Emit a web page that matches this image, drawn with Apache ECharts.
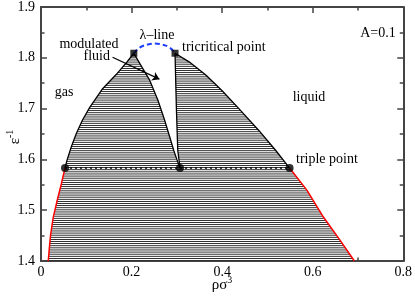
<!DOCTYPE html>
<html><head><meta charset="utf-8">
<script src="https://cdn.jsdelivr.net/npm/echarts@6/dist/echarts.min.js"></script>
<style>html,body{margin:0;padding:0;background:#fff}#c{width:415px;height:298px}</style>
</head><body><div id="c"></div>
<script>
// ---- data ----
const xTicks = [0, 0.2, 0.4, 0.6, 0.8];
const yTicks = [1.4, 1.5, 1.6, 1.7, 1.8, 1.9];
const tripleY = 1.583;
const triplePoints = [[0.053, 1.583], [0.307, 1.583], [0.549, 1.583]];
const criticalSquares = [[0.205, 1.809], [0.296, 1.809]];
// gas-side binodal of modulated region (bottom -> top)
const gasBinodal = [[0.053,1.583],[0.058,1.600],[0.067,1.625],[0.078,1.651],[0.092,1.678],[0.108,1.703],[0.135,1.738],[0.166,1.767],[0.190,1.792],[0.205,1.809]];
// liquid-side boundary of modulated region (top -> bottom)
const modInner = [[0.205,1.809],[0.218,1.789],[0.240,1.756],[0.258,1.717],[0.272,1.680],[0.284,1.645],[0.293,1.618],[0.300,1.600],[0.307,1.583]];
// modulated-side boundary of liquid region (top -> bottom)
const liqInner = [[0.296,1.809],[0.299,1.700],[0.302,1.618],[0.307,1.583]];
// liquid binodal (top -> bottom)
const liqBinodal = [[0.296,1.809],[0.327,1.792],[0.364,1.766],[0.400,1.735],[0.437,1.700],[0.481,1.657],[0.518,1.618],[0.549,1.583]];
// red lines below triple point (top -> bottom)
const redLeft = [[0.053,1.583],[0.045,1.552],[0.036,1.520],[0.027,1.486],[0.021,1.450],[0.018,1.421],[0.016,1.400]];
const redRight = [[0.549,1.583],[0.5875,1.539],[0.624,1.486],[0.661,1.440],[0.692,1.400]];
// lambda line
const lambdaLine = [[0.205,1.809],[0.218,1.820],[0.235,1.826],[0.251,1.828],[0.268,1.826],[0.284,1.820],[0.296,1.809]];
const arrowLine = [[0.158,1.801],[0.2615,1.758]];

// ---- build ----
function makeHatch(){
  const c=document.createElement('canvas'); c.width=8; c.height=19;
  const g=c.getContext('2d'); g.fillStyle='#fff'; g.fillRect(0,0,8,19);
  g.fillStyle='#000';
  for(let k=0;k<9;k++){ const y=(k*19/9+11)%19; g.fillRect(0,y,8,0.8); }
  return c;
}
const hatch = {image: makeHatch(), repeat: 'repeat'};
const regions = [
  redLeft.slice().reverse().concat(redRight),
  gasBinodal.concat(modInner.slice(1)),
  liqInner.slice().reverse().concat(liqBinodal.slice(1))
];
const SERIF = '"Liberation Serif", "DejaVu Serif", serif';
const axisCol = '#444';
function mkX(pos, show){
  return {type:'value', min:0, max:0.8, interval:0.2, position:pos,
    axisLine:{show:true, onZero:false, lineStyle:{color:axisCol, width:2}},
    axisTick:{show:true, inside:true, length:6, lineStyle:{color:axisCol, width:1.5}},
    minorTick:{show:true, splitNumber:2, length:3.5, lineStyle:{color:axisCol, width:1.5}},
    splitLine:{show:false}, minorSplitLine:{show:false},
    axisLabel:{show:show, color:'#000', fontFamily:SERIF, fontSize:14, margin:4,
      formatter:v=> v===0?'0':v.toFixed(1)}};
}
function mkY(pos, show){
  return {type:'value', min:1.4, max:1.9, interval:0.1, position:pos,
    axisLine:{show:true, onZero:false, lineStyle:{color:axisCol, width:2}},
    axisTick:{show:true, inside:true, length:6, lineStyle:{color:axisCol, width:1.5}},
    minorTick:{show:true, splitNumber:2, length:3.5, lineStyle:{color:axisCol, width:1.5}},
    splitLine:{show:false}, minorSplitLine:{show:false},
    axisLabel:{show:show, color:'#000', fontFamily:SERIF, fontSize:14, margin:6,
      formatter:v=> v.toFixed(1)}};
}
function lineS(data, color, width, type, smooth){
  return {type:'line', data:data, showSymbol:false, symbol:'none', smooth:smooth||false,
    lineStyle:{color:color, width:width, type:type||'solid'}, z:3, silent:true, animation:false};
}
const txt = (t,x,y,align,size)=>({type:'text', x:x, y:y, z:10,
  style:{text:t, fill:'#000', font:(size||14)+'px '+SERIF, align:align||'center', verticalAlign:'middle'}});

const chart = echarts.init(document.getElementById('c'), null, {renderer:'canvas'});
chart.setOption({
  animation:false,
  grid:{left:41, right:10, top:7, bottom:37},
  xAxis:[mkX('bottom', true), mkX('top', false)],
  yAxis:[mkY('left', true), mkY('right', false)],
  series:[
    {type:'custom', data:[0,1,2], z:1, silent:true,
      renderItem:(params, api)=>{
        const pts = regions[params.dataIndex].map(p=>api.coord(p));
        return {type:'polygon', shape:{points:pts}, style:{fill:hatch, stroke:null}};
      }},
    lineS([[triplePoints[0][0], tripleY],[triplePoints[2][0], tripleY]], '#000', 1.5, [2,3]),
    lineS(gasBinodal, '#000', 1.3),
    lineS(modInner, '#000', 1.3),
    lineS(liqInner, '#000', 1.3),
    lineS(liqBinodal, '#000', 1.3),
    lineS(redLeft, '#ff0000', 1.5),
    lineS(redRight, '#ff0000', 1.5),
    lineS(lambdaLine, '#1f3fff', 2, [5,3], true),
    {type:'lines', coordinateSystem:'cartesian2d', z:4, silent:true,
      symbol:['none','arrow'], symbolSize:7,
      lineStyle:{color:'#000', width:1.2, opacity:1},
      data:[{coords:arrowLine}]},
    {type:'scatter', data:triplePoints, symbol:'circle', symbolSize:8,
      itemStyle:{color:'#000'}, z:5, silent:true},
    {type:'scatter', data:criticalSquares, symbol:'rect', symbolSize:7,
      itemStyle:{color:'#000'}, z:5, silent:true}
  ],
  graphic:[
    txt('modulated', 89, 44),
    txt('fluid', 110, 56, 'right'),
    txt('gas', 64, 92),
    txt('liquid', 309, 97),
    txt('A=0.1', 378, 33),
    txt('λ\u2013line', 157, 35),
    txt('tricritical point', 182, 47, 'left'),
    txt('triple point', 296, 159, 'left'),
    {type:'text', x:222, y:284, z:10,
      style:{text:'{b|ρσ}{s|3}', fill:'#000', align:'center', verticalAlign:'middle',
        rich:{b:{fontFamily:SERIF, fontSize:15, fill:'#000', verticalAlign:'bottom', lineHeight:18},
              s:{fontFamily:SERIF, fontSize:10, fill:'#000', verticalAlign:'top', lineHeight:18}}}},
    {type:'text', x:14, y:137, rotation:Math.PI/2, z:10,
      style:{text:'{b|ε}{s|-1}', fill:'#000', align:'center', verticalAlign:'middle',
        rich:{b:{fontFamily:SERIF, fontSize:15, fill:'#000', verticalAlign:'bottom', lineHeight:18},
              s:{fontFamily:SERIF, fontSize:10, fill:'#000', verticalAlign:'top', lineHeight:18}}}}
  ]
});
</script></body></html>
